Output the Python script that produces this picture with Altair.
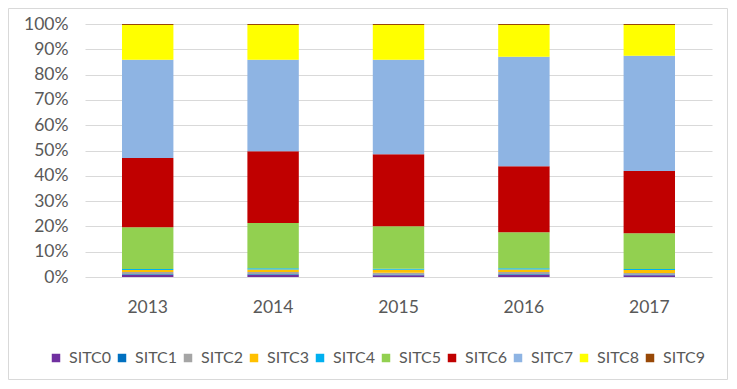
import altair as alt
import pandas as pd

years = ["2013", "2014", "2015", "2016", "2017"]
series = ["SITC0", "SITC1", "SITC2", "SITC3", "SITC4", "SITC5", "SITC6", "SITC7", "SITC8", "SITC9"]
sitc0 = [0.8, 0.8, 0.7, 0.8, 0.7]
sitc1 = [0.3, 0.3, 0.3, 0.3, 0.3]
sitc2 = [0.9, 0.9, 0.7, 0.9, 0.6]
sitc3 = [0.8, 1.0, 1.2, 1.0, 1.2]
sitc4 = [0.4, 0.5, 0.4, 0.5, 0.4]
sitc5 = [16.5, 17.8, 16.8, 14.2, 14.1]
sitc6 = [27.3, 28.4, 28.4, 26.1, 24.6]
sitc7 = [38.9, 36.2, 37.4, 43.3, 45.6]
sitc8 = [13.7, 13.7, 13.7, 12.5, 12.1]
sitc9 = [0.4, 0.4, 0.4, 0.4, 0.4]
colors = ["#7030A0", "#0070C0", "#A5A5A5", "#FFC000", "#00B0F0",
          "#92D050", "#C00000", "#8EB4E3", "#FFFF00", "#984807"]

values = [sitc0, sitc1, sitc2, sitc3, sitc4, sitc5, sitc6, sitc7, sitc8, sitc9]
rows = []
for si, (name, vals) in enumerate(zip(series, values)):
    for yr, v in zip(years, vals):
        rows.append({"year": yr, "series": name, "value": v, "idx": si})
df = pd.DataFrame(rows)

FONT = "Lato"
TXT = "#595959"
GRID = "#d9d9d9"

bars = alt.Chart(df).mark_bar().encode(
    x=alt.X("year:N", title=None, sort=years,
            scale=alt.Scale(paddingInner=0.59, paddingOuter=0.295),
            axis=alt.Axis(labelAngle=0, domain=False, ticks=False, labelPadding=21,
                          labelFont=FONT, labelFontSize=17.5, labelColor=TXT)),
    y=alt.Y("value:Q", stack="normalize", title=None,
            scale=alt.Scale(domain=[0, 1], nice=False),
            axis=alt.Axis(format="%", values=[i / 10 for i in range(11)], domain=False,
                          ticks=False, labelPadding=17, gridColor=GRID, gridWidth=1,
                          labelFont=FONT, labelFontSize=17.5, labelColor=TXT)),
    color=alt.Color("series:N", sort=series,
                    scale=alt.Scale(domain=series, range=colors),
                    legend=alt.Legend(title=None, orient="none", legendX=-37, legendY=326,
                                      direction="horizontal", columns=10, gridAlign="all",
                                      columnPadding=2, labelOffset=5,
                                      symbolType="square", symbolSize=72,
                                      symbolStrokeWidth=0,
                                      labelFont=FONT, labelFontSize=16, labelColor=TXT)),
    order=alt.Order("idx:Q", sort="ascending"),
)

frame = alt.Chart(pd.DataFrame({"a": [0]})).mark_rect(
    fill=None, stroke=GRID, strokeWidth=1
).encode(
    x=alt.value(-76.5), x2=alt.value(642.5), y=alt.value(-15.5), y2=alt.value(355.5)
)

chart = alt.layer(bars, frame).properties(
    width=627, height=253,
    autosize=alt.AutoSizeParams(type="none"),
    padding={"left": 77, "top": 16, "right": 16, "bottom": 103},
).configure_view(stroke=None)

chart.save("out.html", embed_options={"renderer": "svg", "actions": False})
